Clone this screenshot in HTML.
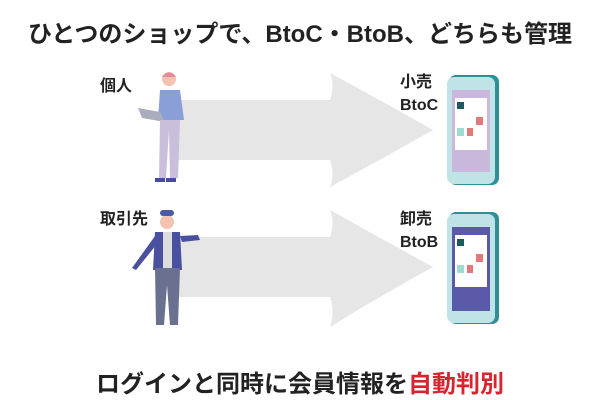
<!DOCTYPE html>
<html><head><meta charset="utf-8"><style>
body{margin:0;width:600px;height:400px;background:#fff;overflow:hidden;position:relative;font-family:"Liberation Sans","Noto Sans CJK JP",sans-serif;font-weight:bold;color:#222}
.t{position:absolute;white-space:nowrap}
</style></head><body>
<div class="t" style="left:0;width:600px;text-align:center;top:14px;font-size:24px">ひとつのショップで、BtoC・BtoB、どちらも管理</div>
<div class="t" style="left:0;width:600px;text-align:center;top:364px;font-size:24px">ログインと同時に会員情報を<span style="color:#d9232e">自動判別</span></div>
<svg width="600" height="400" style="position:absolute;left:0;top:0">
<path d="M170 100 L330 100 Q335 85 330 73 Q380 100 433 130 Q380 160 330 187 Q335 175 330 160 L170 160Z" fill="#e6e6e6"/>
<path d="M170 237 L330 237 Q335 222 330 210 Q380 238 433 267 Q380 296 330 327 Q335 312 330 297 L170 297Z" fill="#e6e6e6"/>
<g>
<rect x="449" y="75" width="50" height="110" rx="7" fill="#2f8f96"/>
<rect x="447" y="77" width="48" height="107" rx="7" fill="#bfe3e6"/>
<rect x="452" y="90" width="38" height="82" fill="#c9b8dc"/>
<rect x="455" y="98" width="32" height="52" fill="#fff"/>
<rect x="457" y="102" width="7" height="7" fill="#1d5a60"/>
<rect x="476" y="117" width="7" height="8" fill="#e07a7a"/>
<rect x="467" y="128" width="6" height="8" fill="#e07a7a"/>
<rect x="457" y="128" width="7" height="8" fill="#9fdad5"/>
</g>
<g>
<rect x="449" y="212" width="50" height="112" rx="7" fill="#2f8f96"/>
<rect x="447" y="214" width="48" height="109" rx="7" fill="#bfe3e6"/>
<rect x="452" y="227" width="38" height="84" fill="#5a5aa8"/>
<rect x="455" y="235" width="32" height="52" fill="#fff"/>
<rect x="457" y="239" width="7" height="7" fill="#1d5a60"/>
<rect x="476" y="254" width="7" height="8" fill="#e07a7a"/>
<rect x="467" y="265" width="6" height="8" fill="#e07a7a"/>
<rect x="457" y="265" width="7" height="8" fill="#9fdad5"/>
</g>
<circle cx="169" cy="79" r="7" fill="#f3c2b0"/>
<path d="M162 77 Q169 68 176 77Z" fill="#e08a9a"/>
<path d="M160 90 L180 90 L184 120 L158 120Z" fill="#8a9ed8"/>
<path d="M138 108 L160 112 L165 122 L142 118Z" fill="#a9adbd"/>
<path d="M160 120 L180 120 L178 178 L170 178 L169 130 L166 178 L159 178Z" fill="#c9bfdc"/>
<rect x="155" y="178" width="10" height="4" fill="#4a4aa0"/><rect x="166" y="178" width="10" height="4" fill="#4a4aa0"/>
<circle cx="167" cy="222" r="7" fill="#f3c2b0"/>
<rect x="160" y="210" width="14" height="6" rx="3" fill="#4a5aa8"/>
<path d="M155 232 L180 232 L182 270 L153 270Z" fill="#4a50a0"/>
<rect x="163" y="232" width="9" height="36" fill="#ddd"/>
<path d="M180 236 L198 235 L200 240 L182 242Z" fill="#4a50a0"/>
<path d="M155 236 L132 268 L136 270 L157 244Z" fill="#4a50a0"/>
<path d="M155 268 L180 268 L178 325 L170 325 L167 285 L164 325 L156 325Z" fill="#6a7090"/>
</svg>
<div class="t" style="left:100px;top:72px;font-size:16px">個人</div>
<div class="t" style="left:100px;top:205px;font-size:16px">取引先</div>
<div class="t" style="left:400px;top:71px;font-size:16px;line-height:23px">小売<br>BtoC</div>
<div class="t" style="left:400px;top:208px;font-size:16px;line-height:23px">卸売<br>BtoB</div>
</body></html>
